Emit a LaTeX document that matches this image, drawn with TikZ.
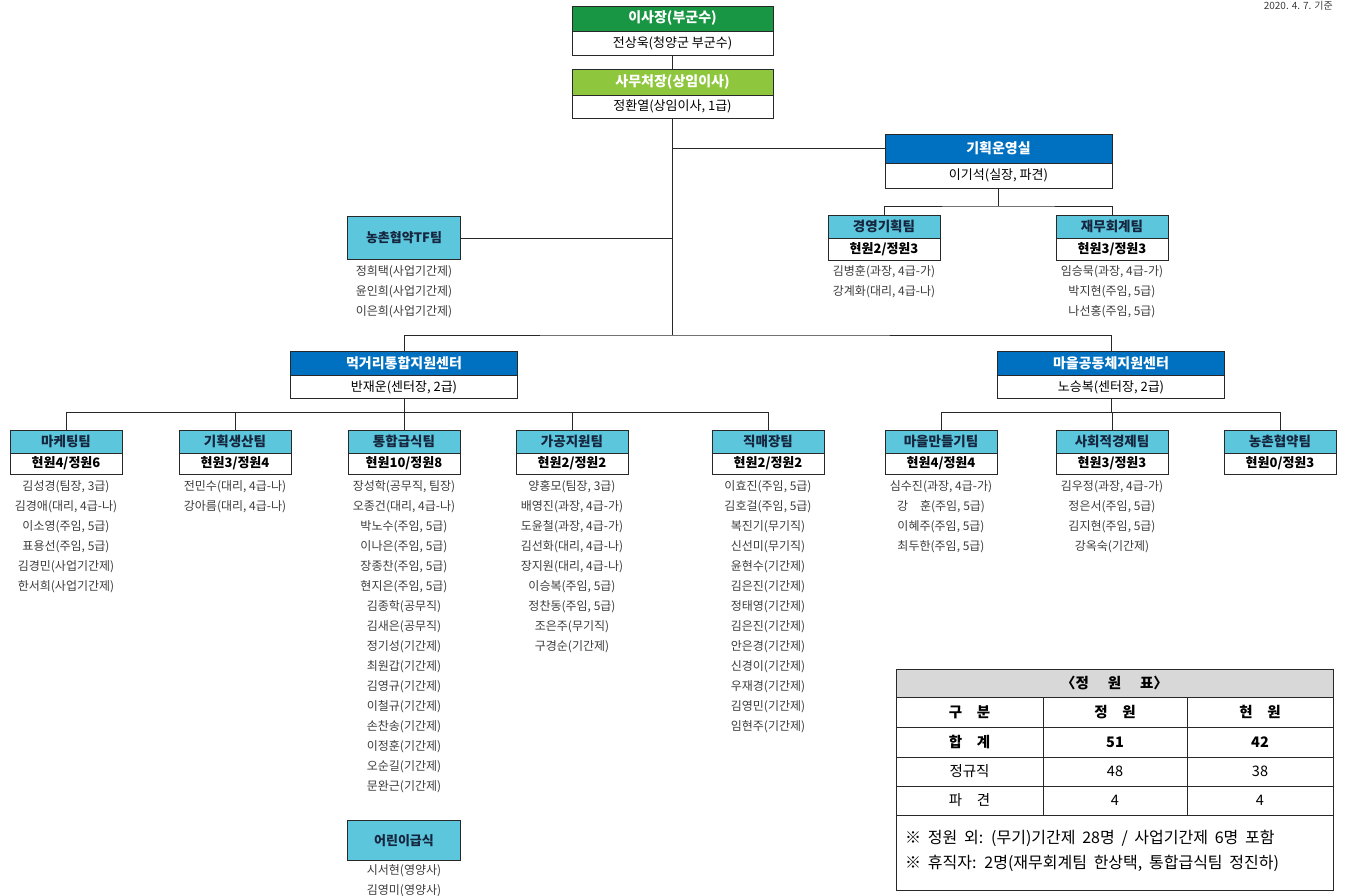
\documentclass[tikz,border=0pt]{standalone}
\usepackage{fontspec}
\setmainfont{Noto Sans CJK KR}
\definecolor{linec}{RGB}{40,40,40}
\definecolor{gdark}{RGB}{24,150,68}
\definecolor{glight}{RGB}{142,198,62}
\definecolor{bluec}{RGB}{0,112,192}
\definecolor{teamc}{RGB}{92,198,220}
\definecolor{teamtxt}{RGB}{22,38,62}
\definecolor{namec}{RGB}{60,60,60}
\definecolor{graybg}{RGB}{216,216,216}
\newcommand{\widespacing}{\spaceskip 0.42em\relax}
\begin{document}
\begin{tikzpicture}[x=1pt,y=-1pt,
  conn/.style={draw=linec, line width=0.8pt},
  bighd/.style={draw=linec, line width=0.9pt, minimum width=227pt, minimum height=25pt, inner sep=0pt, text=white, font=\fontsize{14}{14}\selectfont\bfseries},
  bigrow/.style={draw=linec, line width=0.9pt, fill=white, minimum width=227pt, minimum height=24pt, inner sep=0pt, font=\fontsize{13}{13}\selectfont},
  teamhd/.style={draw=linec, line width=0.9pt, fill=teamc, minimum width=112pt, minimum height=23pt, inner sep=0pt, text=teamtxt, font=\fontsize{13.5}{13.5}\selectfont\bfseries},
  teamrow/.style={draw=linec, line width=0.9pt, fill=white, minimum width=112pt, minimum height=21pt, inner sep=0pt, font=\fontsize{13}{13}\selectfont\bfseries},
  tfbox/.style={draw=linec, line width=0.9pt, fill=teamc, minimum width=113pt, minimum height=43pt, inner sep=0pt, text=teamtxt, font=\fontsize{13}{13}\selectfont\bfseries},
  names/.style={align=center, anchor=north, inner sep=0pt, text=namec, font=\fontsize{12}{20}\selectfont},
  tcell/.style={inner sep=0pt, font=\fontsize{14.5}{14.5}\selectfont},
  tbold/.style={inner sep=0pt, font=\fontsize{14.5}{14.5}\selectfont\bfseries},
  tnote/.style={inner sep=0pt, anchor=west, font=\fontsize{16}{16}\selectfont\widespacing}
]
\useasboundingbox (0,0) rectangle (1348,895);
\clip (0,0) rectangle (1348,895);
\fill[white] (0,0) rectangle (1348,895);

% date
\node[inner sep=0pt, text=namec, font=\fontsize{10}{10}\selectfont, anchor=east] (date) at (1333,6) {2020. 4. 7. 기준};

% top boxes
\node[bighd, fill=gdark, minimum width=201pt] (isa-hd) at (672.5,18.5) {이사장(부군수)};
\node[bigrow, minimum width=201pt] (isa-row) at (672.5,43) {전상욱(청양군 부군수)};
\node[bighd, fill=glight, minimum width=201pt, minimum height=26pt] (samu-hd) at (672.5,82) {사무처장(상임이사)};
\node[bigrow, minimum width=201pt, minimum height=23pt] (samu-row) at (672.5,106.5) {정환열(상임이사, 1급)};

% planning office
\node[bighd, fill=bluec, minimum height=29pt] (kh-hd) at (998.5,148.5) {기획운영실};
\node[bigrow, minimum height=25pt] (kh-row) at (998.5,175.5) {이기석(실장, 파견)};

\node[teamhd] (gy-hd) at (884,226.5) {경영기획팀};
\node[teamrow, minimum height=22pt] (gy-row) at (884,249) {현원2/정원3};
\node[teamhd] (jm-hd) at (1112,226.5) {재무회계팀};
\node[teamrow, minimum height=22pt] (jm-row) at (1112,249) {현원3/정원3};
\node[names] (gy-names) at (884,265) {김병훈(과장, 4급-가)\\강계화(대리, 4급-나)};
\node[names] (jm-names) at (1112,265) {임승묵(과장, 4급-가)\\박지현(주임, 5급)\\나선홍(주임, 5급)};

% TF
\node[tfbox] (tf) at (404,238) {농촌협약TF팀};
\node[names] (tf-names) at (404,265) {정희택(사업기간제)\\윤인희(사업기간제)\\이은희(사업기간제)};

% centers
\node[bighd, fill=bluec] (mg-hd) at (404,363.5) {먹거리통합지원센터};
\node[bigrow, minimum height=23pt] (mg-row) at (404,387) {반재운(센터장, 2급)};
\node[bighd, fill=bluec] (ml-hd) at (1111,363.5) {마을공동체지원센터};
\node[bigrow, minimum height=23pt] (ml-row) at (1111,387) {노승복(센터장, 2급)};

% teams under 먹거리
\node[teamhd] (t1-hd) at (66,441.5) {마케팅팀};
\node[teamrow] (t1-row) at (66,463.5) {현원4/정원6};
\node[teamhd] (t2-hd) at (235,441.5) {기획생산팀};
\node[teamrow] (t2-row) at (235,463.5) {현원3/정원4};
\node[teamhd] (t3-hd) at (404,441.5) {통합급식팀};
\node[teamrow] (t3-row) at (404,463.5) {현원10/정원8};
\node[teamhd] (t4-hd) at (572,441.5) {가공지원팀};
\node[teamrow] (t4-row) at (572,463.5) {현원2/정원2};
\node[teamhd] (t5-hd) at (768,441.5) {직매장팀};
\node[teamrow] (t5-row) at (768,463.5) {현원2/정원2};

% teams under 마을
\node[teamhd] (t6-hd) at (941,441.5) {마을만들기팀};
\node[teamrow] (t6-row) at (941,463.5) {현원4/정원4};
\node[teamhd] (t7-hd) at (1112,441.5) {사회적경제팀};
\node[teamrow] (t7-row) at (1112,463.5) {현원3/정원3};
\node[teamhd] (t8-hd) at (1280,441.5) {농촌협약팀};
\node[teamrow] (t8-row) at (1280,463.5) {현원0/정원3};

% names
\node[names] (t1-names) at (66,480) {김성경(팀장, 3급)\\김경애(대리, 4급-나)\\이소영(주임, 5급)\\표용선(주임, 5급)\\김경민(사업기간제)\\한서희(사업기간제)};
\node[names] (t2-names) at (235,480) {전민수(대리, 4급-나)\\강아름(대리, 4급-나)};
\node[names] (t3-names) at (404,480) {장성학(공무직, 팀장)\\오종건(대리, 4급-나)\\박노수(주임, 5급)\\이나은(주임, 5급)\\장종찬(주임, 5급)\\현지은(주임, 5급)\\김종학(공무직)\\김새은(공무직)\\정기성(기간제)\\최원갑(기간제)\\김영규(기간제)\\이철규(기간제)\\손찬송(기간제)\\이정훈(기간제)\\오순길(기간제)\\문완근(기간제)};
\node[names] (t4-names) at (572,480) {양홍모(팀장, 3급)\\배영진(과장, 4급-가)\\도윤철(과장, 4급-가)\\김선화(대리, 4급-나)\\장지원(대리, 4급-나)\\이승복(주임, 5급)\\정찬동(주임, 5급)\\조은주(무기직)\\구경순(기간제)};
\node[names] (t5-names) at (768,480) {이효진(주임, 5급)\\김호걸(주임, 5급)\\복진기(무기직)\\신선미(무기직)\\윤현수(기간제)\\김은진(기간제)\\정태영(기간제)\\김은진(기간제)\\안은경(기간제)\\신경이(기간제)\\우재경(기간제)\\김영민(기간제)\\임현주(기간제)};
\node[names] (t6-names) at (941,480) {심수진(과장, 4급-가)\\강\quad 훈(주임, 5급)\\이혜주(주임, 5급)\\최두한(주임, 5급)};
\node[names] (t7-names) at (1112,480) {김우정(과장, 4급-가)\\정은서(주임, 5급)\\김지현(주임, 5급)\\강옥숙(기간제)};

% 어린이급식
\node[tfbox, minimum height=40pt] (kid) at (404,840.5) {어린이급식};
\node[names] (kid-names) at (404,864) {시서현(영양사)\\김영미(영양사)};

% connectors
\draw[conn] (isa-row.south) -- (samu-hd.north);
\coordinate (trunk) at (672.5,335);
\draw[conn] (samu-row.south) -- (trunk);
\draw[conn] (mg-hd.north) |- (trunk) -| (ml-hd.north);
\draw[conn] (samu-row.south |- kh-hd.west) -- (kh-hd.west);
\draw[conn] (tf.east) -- (tf.east -| samu-row.south);
\coordinate (khbus) at (998.5,206);
\draw[conn] (kh-row.south) -- (khbus);
\draw[conn] (gy-hd.north) |- (khbus) -| (jm-hd.north);
\coordinate (mgbus) at (404,412);
\draw[conn] (mg-row.south) -- (mgbus);
\draw[conn] (t1-hd.north) |- (mgbus) -| (t5-hd.north);
\draw[conn] (t2-hd.north) -- (t2-hd.north |- mgbus);
\draw[conn] (t3-hd.north) -- (mgbus);
\draw[conn] (t4-hd.north) -- (t4-hd.north |- mgbus);
\coordinate (mlbus) at (1111,412);
\draw[conn] (ml-row.south) -- (mlbus);
\draw[conn] (t6-hd.north) |- (mlbus) -| (t8-hd.north);
\draw[conn] (t7-hd.north) -- (t7-hd.north |- mlbus);

% table
\fill[graybg] (896,669) rectangle (1333,697);
\draw[linec, line width=0.9pt] (896,669) rectangle (1333,890);
\foreach \yy in {697,727,757,786,815} \draw[linec, line width=0.7pt] (896,\yy) -- (1333,\yy);
\foreach \xx in {1043,1187} \draw[linec, line width=0.7pt] (\xx,697) -- (\xx,815);
\node[tbold] (tb-title) at (1114.5,683) {〈정\hspace{1.3em}원\hspace{1.3em}표〉};
\node[tbold] (tb-h1) at (969.5,712) {구\quad 분};
\node[tbold] (tb-h2) at (1115,712) {정\quad 원};
\node[tbold] (tb-h3) at (1260,712) {현\quad 원};
\node[tbold] (tb-r1a) at (969.5,742) {합\quad 계};
\node[tbold] (tb-r1b) at (1115,742) {51};
\node[tbold] (tb-r1c) at (1260,742) {42};
\node[tcell] (tb-r2a) at (969.5,771.5) {정규직};
\node[tcell] (tb-r2b) at (1115,771.5) {48};
\node[tcell] (tb-r2c) at (1260,771.5) {38};
\node[tcell] (tb-r3a) at (969.5,800.5) {파\quad 견};
\node[tcell] (tb-r3b) at (1115,800.5) {4};
\node[tcell] (tb-r3c) at (1260,800.5) {4};
\node[tnote] (tb-n1) at (905,838) {※\ 정원 외: (무기)기간제 28명 / 사업기간제 6명 포함};
\node[tnote] (tb-n2) at (905,863) {※\ 휴직자: 2명(재무회계팀 한상택, 통합급식팀 정진하)};
\end{tikzpicture}
\end{document}
